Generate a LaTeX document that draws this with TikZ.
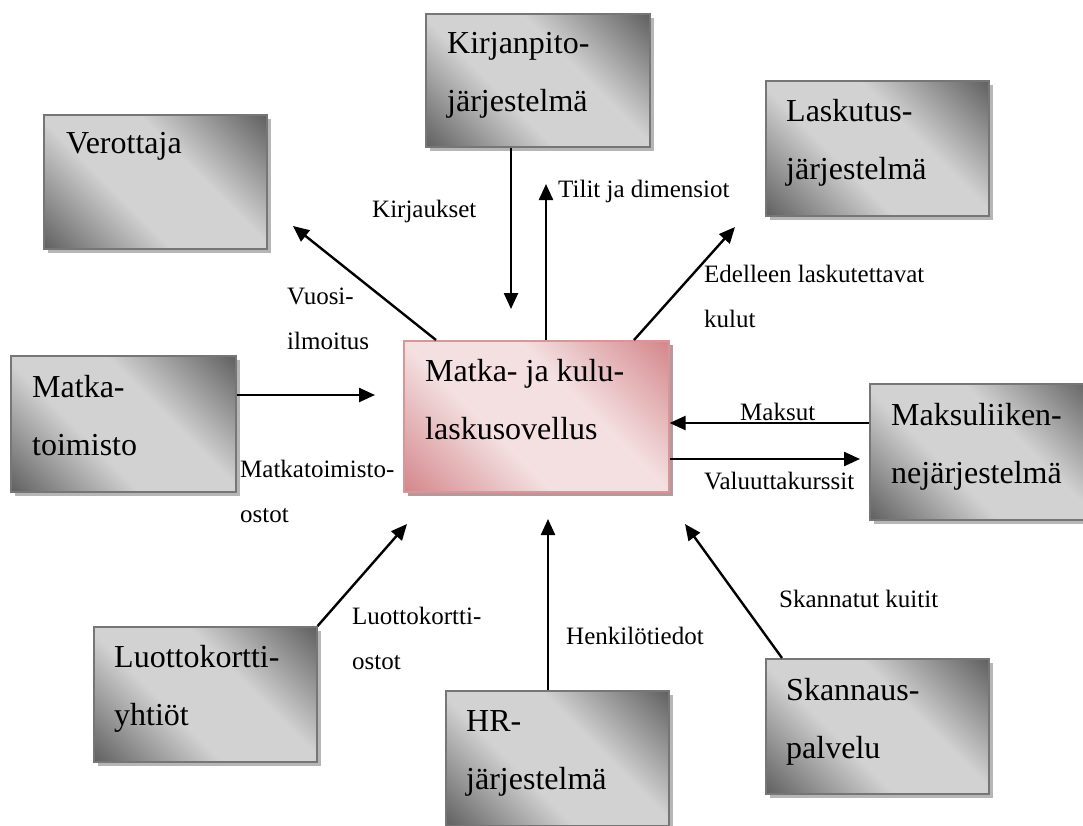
\documentclass[tikz,border=0pt]{standalone}
\usepackage{fontspec}
\setmainfont{Liberation Serif}
\usetikzlibrary{arrows.meta,shadows,calc}
\definecolor{gdark}{RGB}{98,98,98}
\definecolor{glight}{RGB}{210,210,210}
\definecolor{gline}{RGB}{118,118,118}
\definecolor{gshadow}{RGB}{182,182,182}
\definecolor{pdark}{RGB}{212,136,140}
\definecolor{plight}{RGB}{244,224,225}
\definecolor{pline}{RGB}{216,150,153}
\definecolor{pshadow}{RGB}{184,152,154}
\pgfdeclareverticalshading{grayshade}{100bp}{color(0bp)=(gdark); color(15bp)=(gdark); color(40bp)=(glight); color(60bp)=(glight); color(85bp)=(gdark); color(100bp)=(gdark)}
\pgfdeclareverticalshading{pinkshade}{100bp}{color(0bp)=(pdark); color(15bp)=(pdark); color(40bp)=(plight); color(60bp)=(plight); color(85bp)=(pdark); color(100bp)=(pdark)}
\newcommand\twoln[2]{\begin{tabular}[t]{@{}l@{}}#1\\#2\end{tabular}}
\tikzset{
  sysbox/.style={draw=gline, line width=1.6pt, shade, shading=grayshade, shading angle=-45,
    drop shadow={shadow xshift=4pt, shadow yshift=-4pt, fill=gshadow, opacity=1},
    anchor=north west, inner sep=0pt, minimum width=223pt, minimum height=135pt},
  appbox/.style={draw=pline, line width=1.6pt, shade, shading=pinkshade, shading angle=-45,
    drop shadow={shadow xshift=4pt, shadow yshift=-4pt, fill=pshadow, opacity=1},
    anchor=north west, inner sep=0pt, minimum width=265pt, minimum height=151pt},
  boxtxt/.style={font=\fontsize{32}{58}\selectfont, anchor=base west, inner sep=0pt},
  lbl/.style={font=\fontsize{25}{45}\selectfont, anchor=base west, inner sep=0pt},
  arr/.style={line width=2.4pt, -{Triangle[length=16pt,width=14pt]}}
}
\begin{document}
\begin{tikzpicture}[x=1pt,y=-1pt]
\useasboundingbox (0,0) rectangle (1083,825);
% boxes
\node[sysbox, minimum width=224pt, minimum height=133pt] (kir) at (425,13) {};
\node[sysbox, minimum height=134pt] (ver) at (43,114) {};
\node[sysbox] (las) at (765,80) {};
\node[sysbox, minimum width=225pt, minimum height=136pt] (mat) at (10,355) {};
\node[appbox] (cen) at (403,340) {};
\node[sysbox, minimum height=136pt] (mak) at (869,383) {};
\node[sysbox] (luo) at (93,626) {};
\node[sysbox] (hr) at (445,690) {};
\node[sysbox] (ska) at (765,658) {};
% box texts
\node[boxtxt] (kir-t) at (447,53) {\twoln{Kirjanpito-}{järjestelmä}};
\node[boxtxt] (ver-t) at (66,153) {Verottaja};
\node[boxtxt] (las-t) at (786,121) {\twoln{Laskutus-}{järjestelmä}};
\node[boxtxt] (mat-t) at (32,397) {\twoln{Matka-}{toimisto}};
\node[boxtxt] (cen-t) at (425,381) {\twoln{Matka- ja kulu-}{laskusovellus}};
\node[boxtxt] (mak-t) at (891,425) {\twoln{Maksuliiken-}{nejärjestelmä}};
\node[boxtxt] (luo-t) at (114,667) {\twoln{Luottokortti-}{yhtiöt}};
\node[boxtxt] (hr-t) at (466,731) {\twoln{HR-}{järjestelmä}};
\node[boxtxt] (ska-t) at (786,700) {\twoln{Skannaus-}{palvelu}};
% free arrow ends
\coordinate (tver) at (293,226);
\coordinate (tkir) at (511,309);
\coordinate (ttil) at (546,184);
\coordinate (tlas) at (735,227);
\coordinate (tmat) at (375,395);
\coordinate (tval) at (860,459);
\coordinate (tluo) at (407,524);
\coordinate (thr) at (548,519);
\coordinate (tska) at (685,524);
% arrows
\draw[arr] ($(cen.north west)+(33,0)$) -- (tver);
\draw[arr] ($(kir.south west)+(86,0)$) -- (tkir);
\draw[arr] ($(cen.north west)+(143,0)$) -- (ttil);
\draw[arr] ($(cen.north west)+(231,0)$) -- (tlas);
\draw[arr] ($(mat.north east)+(0,40)$) -- (tmat);
\draw[arr] ($(mak.north west)+(0,40)$) -- ($(cen.north east)+(0,83)$);
\draw[arr] ($(cen.north east)+(0,119)$) -- (tval);
\draw[arr] (luo.north east) -- (tluo);
\draw[arr] ($(hr.north west)+(103,0)$) -- (thr);
\draw[arr] ($(ska.north west)+(17,0)$) -- (tska);
% labels
\node[lbl] (l-kirj) at (372,217) {Kirjaukset};
\node[lbl] (l-tilit) at (558,197) {Tilit ja dimensiot};
\node[lbl] (l-vuosi) at (287,304) {\twoln{Vuosi-}{ilmoitus}};
\node[lbl] (l-edel) at (704,282) {\twoln{Edelleen laskutettavat}{kulut}};
\node[lbl] (l-maks) at (740,420) {Maksut};
\node[lbl] (l-valu) at (704,489) {Valuuttakurssit};
\node[lbl] (l-matk) at (240,477) {\twoln{Matkatoimisto-}{ostot}};
\node[lbl] (l-luot) at (352,624) {\twoln{Luottokortti-}{ostot}};
\node[lbl] (l-henk) at (566,644) {Henkilötiedot};
\node[lbl] (l-skan) at (779,607) {Skannatut kuitit};
\end{tikzpicture}
\end{document}
